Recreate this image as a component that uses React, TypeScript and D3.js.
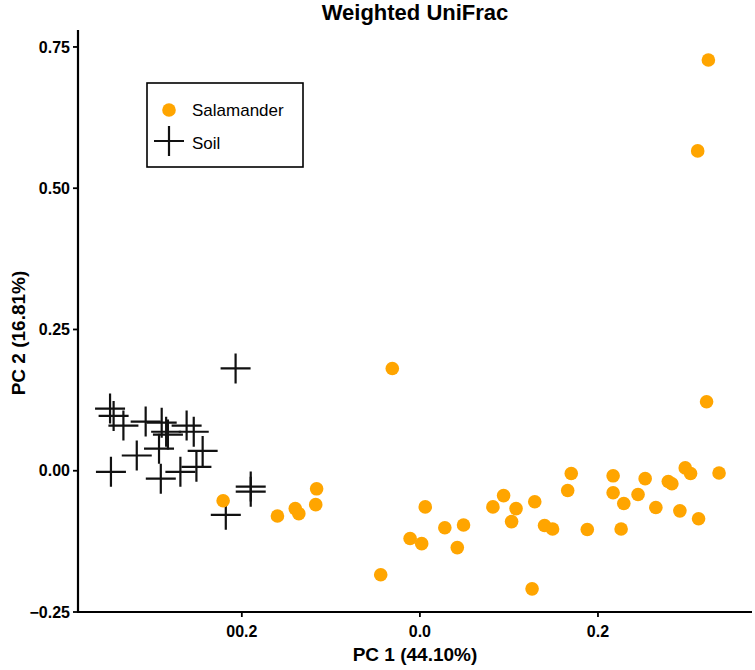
import React from "react";
import * as d3 from "d3";

const salamanderX = [0.324, 0.312, -0.031, 0.322, 0.298, 0.304, 0.336, 0.170, 0.217, 0.253, 0.279, 0.283, 0.166, 0.217, 0.245, 0.094, 0.229, 0.129, 0.006, 0.082, 0.108, 0.265, 0.292, 0.313, 0.103, 0.049, 0.028, 0.140, 0.149, 0.188, 0.226, -0.011, 0.002, 0.042, -0.044, 0.126, -0.221, -0.160, -0.140, -0.136, -0.116, -0.117];
const salamanderY = [0.727, 0.566, 0.181, 0.122, 0.005, -0.005, -0.004, -0.005, -0.009, -0.014, -0.019, -0.023, -0.035, -0.039, -0.042, -0.044, -0.058, -0.055, -0.064, -0.064, -0.067, -0.065, -0.071, -0.085, -0.090, -0.096, -0.101, -0.097, -0.103, -0.104, -0.103, -0.120, -0.129, -0.136, -0.184, -0.209, -0.053, -0.080, -0.067, -0.076, -0.032, -0.060];

const soilX = [-0.207, -0.348, -0.344, -0.333, -0.308, -0.290, -0.285, -0.283, -0.262, -0.254, -0.318, -0.293, -0.244, -0.347, -0.291, -0.269, -0.251, -0.190, -0.190, -0.218];
const soilY = [0.181, 0.110, 0.097, 0.080, 0.087, 0.085, 0.069, 0.064, 0.080, 0.069, 0.027, 0.039, 0.035, -0.002, -0.014, -0.002, 0.007, -0.028, -0.037, -0.078];

const yTicks = [0.75, 0.5, 0.25, 0, -0.25];
const yTickLabels = ["0.75", "0.50", "0.25", "0.00", "\u22120.25"];
const xTicks = [-0.2, 0, 0.2];
const xTickLabels = ["00.2", "0.0", "0.2"];

const titleText = "Weighted UniFrac";
const xTitle = "PC 1 (44.10%)";
const yTitle = "PC 2 (16.81%)";
const legendLabels = ["Salamander", "Soil"];

const FONT = "'Liberation Sans', Arial, Helvetica, sans-serif";
const ORANGE = "#FFA500";

export default function App() {
  const W = 755, H = 670;
  const x = d3.scaleLinear().domain([-0.384, 0.373]).range([78, 752]);
  const y = d3.scaleLinear().domain([-0.25, 0.78]).range([612, 30]);
  const arm = 15;

  const salamander = salamanderX.map((v, i) => [v, salamanderY[i]]);
  const soil = soilX.map((v, i) => [v, soilY[i]]);

  return (
    <svg width={W} height={H} style={{ position: "absolute", left: 0, top: 0, background: "#fff" }} fontFamily={FONT}>
      <rect width={W} height={H} fill="#fff" />
      <text x={415} y={20} textAnchor="middle" fontSize={22} fontWeight="bold">{titleText}</text>

      {/* axes */}
      <line x1={x.range()[0]} x2={x.range()[0]} y1={y.range()[1]} y2={y.range()[0] + 1} stroke="#000" strokeWidth={2.2} />
      <line x1={x.range()[0] - 1} x2={x.range()[1]} y1={y.range()[0]} y2={y.range()[0]} stroke="#000" strokeWidth={2.2} />
      {yTicks.map((t, i) => (
        <g key={"yt" + i}>
          <line x1={x.range()[0] - 5} x2={x.range()[0]} y1={y(t)} y2={y(t)} stroke="#000" strokeWidth={1.8} />
          <text x={x.range()[0] - 8} y={y(t)} dy="0.36em" textAnchor="end" fontSize={16} fontWeight="bold">{yTickLabels[i]}</text>
        </g>
      ))}
      {xTicks.map((t, i) => (
        <g key={"xt" + i}>
          <line x1={x(t)} x2={x(t)} y1={y.range()[0]} y2={y.range()[0] + 5} stroke="#000" strokeWidth={1.8} />
          <text x={x(t)} y={637} textAnchor="middle" fontSize={16} fontWeight="bold">{xTickLabels[i]}</text>
        </g>
      ))}
      <text x={415} y={661} textAnchor="middle" fontSize={19} fontWeight="bold">{xTitle}</text>
      <text transform="translate(25,333) rotate(-90)" textAnchor="middle" fontSize={19} fontWeight="bold">{yTitle}</text>

      {/* soil crosses */}
      {soil.map(([a, b], i) => (
        <path key={"s" + i} d={`M${x(a) - arm},${y(b)}H${x(a) + arm}M${x(a)},${y(b) - arm}V${y(b) + arm}`} stroke="#111" strokeWidth={2.2} fill="none" />
      ))}
      {/* salamander points */}
      {salamander.map(([a, b], i) => (
        <circle key={"p" + i} cx={x(a)} cy={y(b)} r={6.8} fill={ORANGE} />
      ))}

      {/* legend */}
      <rect x={147} y={83} width={156} height={84} fill="#fff" stroke="#000" strokeWidth={1.6} />
      <circle cx={169} cy={110} r={6.8} fill={ORANGE} />
      <text x={192} y={116} fontSize={17}>{legendLabels[0]}</text>
      <path d={`M${169 - arm},141H${169 + arm}M169,${141 - arm}V${141 + arm}`} stroke="#111" strokeWidth={2.2} />
      <text x={192} y={149} fontSize={17}>{legendLabels[1]}</text>
    </svg>
  );
}
